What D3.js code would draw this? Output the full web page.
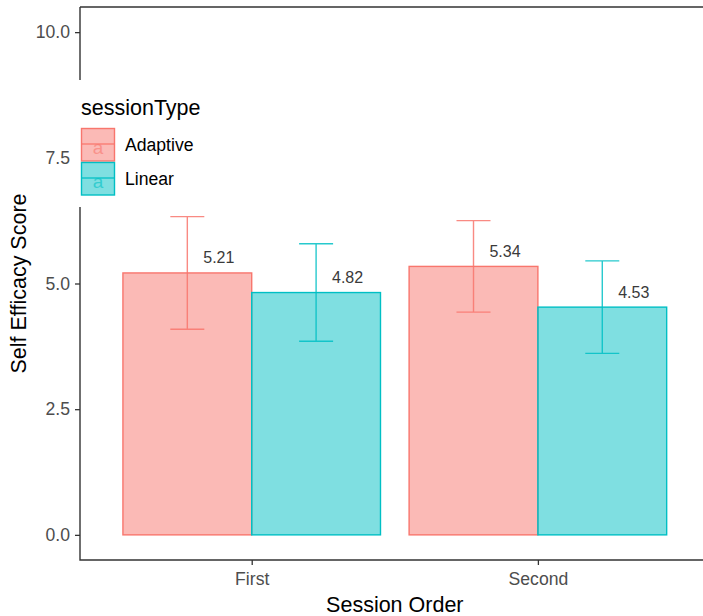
<!DOCTYPE html>
<html><head><meta charset="utf-8">
<script src="https://cdn.jsdelivr.net/npm/d3@7"></script>
<style>
html,body{margin:0;padding:0;background:#fff;overflow:hidden}
text{font-family:"Liberation Sans",Arial,sans-serif}
</style></head>
<body>
<svg id="chart" width="703" height="616"></svg>
<script>
const categories = ["First", "Second"];
const sessionTypes = ["Adaptive", "Linear"];
const adaptiveMeans = [5.21, 5.34];
const linearMeans = [4.82, 4.53];
const adaptiveErr = [1.12, 0.91];
const linearErr = [0.97, 0.92];
const yTicks = [0, 2.5, 5, 7.5, 10];
const yTickLabels = ["0.0", "2.5", "5.0", "7.5", "10.0"];
const colors = ["#F8766D", "#00BFC4"];

const data = [];
categories.forEach((c, i) => {
  data.push({cat: c, type: "Adaptive", mean: adaptiveMeans[i], err: adaptiveErr[i]});
  data.push({cat: c, type: "Linear", mean: linearMeans[i], err: linearErr[i]});
});

const svg = d3.select("#chart");
const panel = {left: 80, right: 709.6, top: 7, bottom: 560};
const FONT = "Liberation Sans, Arial, sans-serif";

const x = d3.scalePoint().domain(categories).range([panel.left, panel.right]).padding(0.6);
const step = x.step();
const xInner = d3.scaleBand().domain(sessionTypes).range([-0.45 * step, 0.45 * step]);
const y = d3.scaleLinear().domain([-0.5, 10.5]).range([panel.bottom, panel.top]);
const color = d3.scaleOrdinal().domain(sessionTypes).range(colors);

const lineCol = "#333333";

// bars
svg.append("g").selectAll("rect").data(data).join("rect")
  .attr("x", d => x(d.cat) + xInner(d.type))
  .attr("width", xInner.bandwidth())
  .attr("y", d => y(d.mean))
  .attr("height", d => y(0) - y(d.mean))
  .attr("fill", d => color(d.type))
  .attr("fill-opacity", 0.5)
  .attr("stroke", d => color(d.type))
  .attr("stroke-width", 1.4);

// error bars
const capHalf = 17;
const eb = svg.append("g").selectAll("g").data(data).join("g")
  .attr("stroke", d => color(d.type))
  .attr("stroke-opacity", 0.85)
  .attr("stroke-width", 1.4)
  .attr("fill", "none");
eb.append("path").attr("d", d => {
  const cx = x(d.cat) + xInner(d.type) + xInner.bandwidth() / 2;
  const y1 = y(d.mean + d.err), y0 = y(d.mean - d.err);
  return `M${cx - capHalf},${y1}H${cx + capHalf}M${cx},${y1}V${y0}M${cx - capHalf},${y0}H${cx + capHalf}`;
});

// value labels
svg.append("g").selectAll("text").data(data).join("text")
  .attr("x", d => x(d.cat) + xInner(d.type) + xInner.bandwidth() / 2 + 31.5)
  .attr("y", d => y(d.mean + 0.3))
  .attr("dy", "0.35em")
  .attr("text-anchor", "middle")
  .attr("font-size", 16)
  .attr("fill", "#3a3a3a")
  .text(d => d.mean.toFixed(2));

// axes
const yAxis = d3.axisLeft(y).tickValues(yTicks).tickFormat((d, i) => yTickLabels[i]).tickSize(5).tickPadding(5);
const gy = svg.append("g").attr("transform", `translate(${panel.left},0)`).call(yAxis);
gy.select(".domain").remove();
gy.selectAll(".tick line").attr("stroke", lineCol).attr("stroke-width", 1.3);
gy.selectAll(".tick text").attr("font-size", 17.6).attr("fill", "#4D4D4D").attr("font-family", FONT);

const xAxis = d3.axisBottom(x).tickSize(5).tickPadding(8);
const gx = svg.append("g").attr("transform", `translate(0,${panel.bottom})`).call(xAxis);
gx.select(".domain").remove();
gx.selectAll(".tick line").attr("stroke", lineCol).attr("stroke-width", 1.3);
gx.selectAll(".tick text").attr("font-size", 17.6).attr("fill", "#4D4D4D").attr("font-family", FONT);

// axis lines & top border
svg.append("path")
  .attr("d", `M${panel.left},${panel.top}V${panel.bottom}H${panel.right}M${panel.left},${panel.top}H${panel.right}`)
  .attr("stroke", lineCol).attr("stroke-width", 1.4).attr("fill", "none");

// axis titles
svg.append("text").attr("x", (panel.left + panel.right) / 2).attr("y", 612)
  .attr("text-anchor", "middle").attr("font-size", 21.5).attr("fill", "#000").text("Session Order");
svg.append("text").attr("transform", `translate(26,${(panel.top + panel.bottom) / 2}) rotate(-90)`)
  .attr("text-anchor", "middle").attr("font-size", 21.5).attr("fill", "#000").text("Self Efficacy Score");

// legend
const lg = svg.append("g");
lg.append("rect").attr("x", 72).attr("y", 80).attr("width", 140).attr("height", 127).attr("fill", "#fff");
lg.append("text").attr("x", 81).attr("y", 115).attr("font-size", 21.5).attr("fill", "#000").text("sessionType");
const keyH = 34, keyW = 34, keyTop = 128;
const items = lg.selectAll("g.item").data(sessionTypes).join("g").attr("class", "item")
  .attr("transform", (d, i) => `translate(81.5,${keyTop + i * keyH + 0.5})`);
items.append("rect").attr("width", keyW - 1).attr("height", keyH - 1.5)
  .attr("fill", d => color(d)).attr("fill-opacity", 0.5)
  .attr("stroke", d => color(d)).attr("stroke-width", 1.4);
items.append("line").attr("x1", 0).attr("x2", keyW - 1).attr("y1", 15.5).attr("y2", 15.5)
  .attr("stroke", d => color(d)).attr("stroke-opacity", 0.85).attr("stroke-width", 1.4);
items.append("text").attr("x", (keyW - 1) / 2).attr("y", 19).attr("dy", "0.35em")
  .attr("text-anchor", "middle").attr("font-size", 19).attr("font-family", FONT)
  .attr("fill", d => color(d)).attr("fill-opacity", 0.6).text("a");
items.append("text").attr("x", 43.5).attr("y", 16.5).attr("dy", "0.35em")
  .attr("font-size", 17.6).attr("font-family", FONT).attr("fill", "#000").text(d => d);
</script>
</body></html>
